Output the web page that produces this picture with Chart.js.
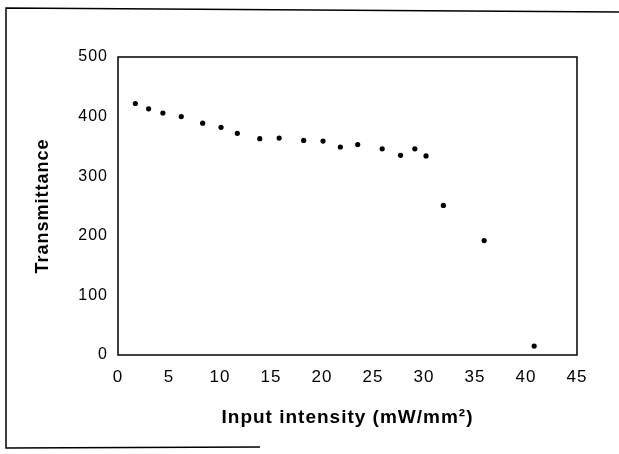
<!DOCTYPE html>
<html>
<head>
<meta charset="utf-8">
<script src="https://cdn.jsdelivr.net/npm/chart.js@4/dist/chart.umd.min.js"></script>
<style>
  html, body { margin: 0; padding: 0; background: #fff; }
  #wrap { position: relative; width: 619px; height: 454px; }
</style>
</head>
<body>
<div id="wrap"><canvas id="chart" width="619" height="454"></canvas></div>
<script>
// input intensity (mW/mm²) and transmittance
const intensity = [1.7, 3, 4.4, 6.2, 8.3, 10.1, 11.7, 13.9, 15.8, 18.2, 20.1, 21.8, 23.5, 25.9, 27.7, 29.1, 30.2, 31.9, 35.9, 40.8];
const transmittance = [422, 413, 406, 400, 389, 382, 372, 363, 364, 360, 359, 349, 353, 346, 335, 346, 334, 251, 192, 15];
const xTicks = [0, 5, 10, 15, 20, 25, 30, 35, 40, 45];
const yTicks = [0, 100, 200, 300, 400, 500];

document.addEventListener("DOMContentLoaded", function () {
    const points = intensity.map((x, i) => ({ x: x, y: transmittance[i] }));

    // outer frame of the scan and the box round the plot
    const frames = {
        id: "frames",
        beforeDraw(chart) {
            // the scanned lettering is a bit spread out
            chart.ctx.letterSpacing = "1px";
        },
        afterDraw(chart) {
            const ctx = chart.ctx;
            const a = chart.chartArea;
            ctx.save();
            ctx.strokeStyle = "#000";
            ctx.lineWidth = 1.5;
            ctx.strokeRect(a.left, a.top, a.right - a.left, a.bottom - a.top);
            ctx.beginPath();
            ctx.moveTo(619, 12);
            ctx.lineTo(6, 8);
            ctx.lineTo(6, 448);
            ctx.lineTo(260, 447);
            ctx.stroke();
            ctx.restore();
        },
    };

    new Chart(document.getElementById("chart"), {
        type: "scatter",
        data: {
            datasets: [
                {
                    data: points,
                    backgroundColor: "#000",
                    borderColor: "#000",
                    pointRadius: 2.6,
                    pointBorderWidth: 0,
                },
            ],
        },
        options: {
            responsive: false,
            animation: false,
            layout: {
                padding: { top: 57, right: 42, bottom: 0, left: 0 },
            },
            plugins: {
                legend: { display: false },
                tooltip: { enabled: false },
            },
            scales: {
                x: {
                    type: "linear",
                    min: 0,
                    max: 45,
                    afterBuildTicks: (s) => { s.ticks = xTicks.map((v) => ({ value: v })); },
                    afterFit: (s) => { s.height = 99; },
                    grid: { display: false, drawTicks: false },
                    border: { display: false },
                    ticks: {
                        color: "#000",
                        padding: 12,
                        maxRotation: 0,
                        font: { family: "Liberation Sans", size: 17 },
                    },
                    title: {
                        display: true,
                        text: "Input intensity (mW/mm²)",
                        color: "#000",
                        padding: { top: 0, bottom: 25 },
                        font: { family: "Liberation Sans", size: 19, weight: "bold" },
                    },
                },
                y: {
                    min: 0,
                    max: 500,
                    afterBuildTicks: (s) => { s.ticks = yTicks.map((v) => ({ value: v })); },
                    afterFit: (s) => { s.width = 118; },
                    grid: { display: false, drawTicks: false },
                    border: { display: false },
                    ticks: {
                        color: "#000",
                        padding: 10,
                        font: { family: "Liberation Sans", size: 16 },
                    },
                    title: {
                        display: true,
                        text: "Transmittance",
                        color: "#000",
                        padding: { top: 32, bottom: 0 },
                        font: { family: "Liberation Sans", size: 18, weight: "bold" },
                    },
                },
            },
        },
        plugins: [frames],
    });
});
</script>
</body>
</html>
